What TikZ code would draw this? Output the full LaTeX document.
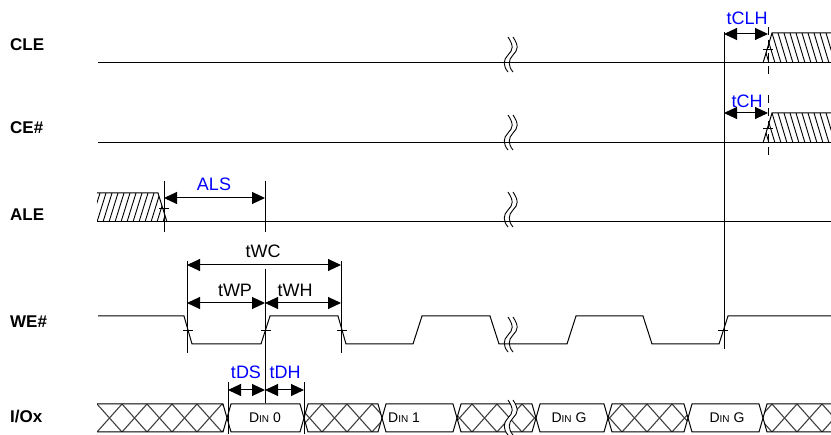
\documentclass[tikz,border=0pt]{standalone}
\usepackage{fontspec}
\setmainfont{Liberation Sans}
\usetikzlibrary{arrows.meta}
\begin{document}
\begin{tikzpicture}[x=1pt,y=-1pt,
  sig/.style={line width=1pt},
  meas/.style={line width=1pt},
  dim/.style={line width=1pt,{Triangle[length=13pt,width=12pt]}-{Triangle[length=13pt,width=12pt]}},
  hatchline/.style={line width=0.9pt},
  xhatch/.style={line width=1.1pt,black!75},
  tick/.style={line width=0.8pt},
  lbl/.style={font=\fontsize{18}{18}\selectfont,inner sep=0pt},
  blbl/.style={lbl,text=blue},
  sname/.style={font=\bfseries\fontsize{17}{17}\selectfont,inner sep=0pt,anchor=west},
  din/.style={font=\fontsize{14}{14}\selectfont,inner sep=0pt},
  brk/.pic={
    \draw[line width=0.9pt] (0,0) .. controls (6,9) and (5,13) .. (0,18) .. controls (-5,23) and (-5,29) .. (0,35);
    \draw[line width=0.9pt] (5,0) .. controls (11,9) and (10,13) .. (5,18) .. controls (0,23) and (0,29) .. (5,35);
  }]
\useasboundingbox (0,0) rectangle (831,435);
\newcommand{\dinlab}[1]{D{\fontsize{10}{10}\selectfont IN} #1}

% signal names
\node[sname] (nCLE) at (10,45) {CLE};
\node[sname] (nCE) at (10,128) {CE\#};
\node[sname] (nALE) at (10,215) {ALE};
\node[sname] (nWE) at (10,322) {WE\#};
\node[sname] (nIO) at (10,417) {I/Ox};

% ---------- CLE ----------
\begin{scope}
  \clip (763,63) -- (772,33) -- (831,33) -- (831,63) -- cycle;
  \foreach \x in {748,754,...,836} \draw[hatchline] (\x,33) -- (\x+9,63);
\end{scope}
\draw[sig] (98,63) -- (831,63);
\draw[sig] (763,63) -- (772,33) -- (831,33);
\draw[tick] (763,49) -- (773,49);
\pic at (508,37) {brk};

% ---------- CE# ----------
\begin{scope}
  \clip (763,143) -- (772,113) -- (831,113) -- (831,143) -- cycle;
  \foreach \x in {748,754,...,836} \draw[hatchline] (\x,113) -- (\x+9,143);
\end{scope}
\draw[sig] (98,143) -- (831,143);
\draw[sig] (763,143) -- (772,113) -- (831,113);
\draw[tick] (763,128) -- (773,128);
\pic at (508,115) {brk};

% ---------- ALE ----------
\begin{scope}
  \clip (97,193) -- (158,193) -- (167,222) -- (97,222) -- cycle;
  \foreach \x in {85,91,...,170} \draw[hatchline] (\x,222) -- (\x+9,193);
\end{scope}
\draw[sig] (97,222) -- (831,222);
\draw[sig] (97,193) -- (158,193) -- (167,222);
\draw[tick] (159,208) -- (169,208);
\pic at (508,192) {brk};

% ---------- WE# ----------
\draw[sig] (98,316) -- (184,316) -- (192,344) -- (261,344) -- (270,316) -- (338,316) -- (346,344)
  -- (413,344) -- (422,316) -- (490,316) -- (499,344) -- (567,344) -- (576,316) -- (643,316)
  -- (652,344) -- (719,344) -- (728,316) -- (831,316);
\foreach \x in {188,266,342,723} \draw[tick] (\x-5,330) -- (\x+5,330);
\pic at (508,317) {brk};

% ---------- I/Ox bus ----------
\def\bt{404}\def\bb{432}\def\bm{418}
\foreach \a/\b in {227/304,382/457,536/608,688/763} {
  \draw[sig] (\a,\bm) -- (\a+4,\bt) -- (\b-4,\bt) -- (\b,\bm) -- (\b-4,\bb) -- (\a+4,\bb) -- cycle;
}
\foreach \a/\b in {304/382,457/536,608/688} {
  \begin{scope}
    \clip (\a,\bm) -- (\a+4,\bt) -- (\b-4,\bt) -- (\b,\bm) -- (\b-4,\bb) -- (\a+4,\bb) -- cycle;
    \foreach \x in {72,97,...,850} {\draw[xhatch] (\x,\bt) -- (\x+25,\bb); \draw[xhatch] (\x,\bb) -- (\x+25,\bt);}
  \end{scope}
}
\begin{scope}
  \clip (97,\bt) -- (223,\bt) -- (227,\bm) -- (223,\bb) -- (97,\bb) -- cycle;
  \foreach \x in {72,97,...,250} {\draw[xhatch] (\x,\bt) -- (\x+25,\bb); \draw[xhatch] (\x,\bb) -- (\x+25,\bt);}
\end{scope}
\begin{scope}
  \clip (831,\bt) -- (767,\bt) -- (763,\bm) -- (767,\bb) -- (831,\bb) -- cycle;
  \foreach \x in {747,772,...,850} {\draw[xhatch] (\x,\bt) -- (\x+25,\bb); \draw[xhatch] (\x,\bb) -- (\x+25,\bt);}
\end{scope}
\draw[sig] (97,\bt) -- (223,\bt) -- (227,\bm) -- (223,\bb) -- (97,\bb);
\draw[sig] (831,\bt) -- (767,\bt) -- (763,\bm) -- (767,\bb) -- (831,\bb);
\foreach \a/\b in {304/382,457/536,608/688} {
  \draw[sig] (\a,\bm) -- (\a+4,\bt) -- (\b-4,\bt) -- (\b,\bm) -- (\b-4,\bb) -- (\a+4,\bb) -- cycle;
}
\fill[white] (508,400) .. controls (514,409) and (513,413) .. (508,418) .. controls (503,423) and (503,429) .. (508,435)
  -- (513,435) .. controls (508,429) and (508,423) .. (513,418) .. controls (518,413) and (519,409) .. (513,400) -- cycle;
\pic at (508,400) {brk};

\node[din] (d0) at (265,418) {\dinlab{0}};
\node[din,anchor=west] (d1) at (388,418) {\dinlab{1}};
\node[din] (dg1) at (569,418) {\dinlab{G}};
\node[din] (dg2) at (727,418) {\dinlab{G}};

% ---------- measurement lines ----------
\coordinate (mA1) at (164,181); \coordinate (mA2) at (164,232);
\coordinate (mB1) at (265,181); \coordinate (mB2) at (265,232);
\draw[meas] (mA1) -- (mA2);
\draw[meas] (mB1) -- (mB2);
\draw[dim] (mA1 |- 0,198) -- (mB1 |- 0,198);
\node[blbl] (tALS) at (214,184) {ALS};

\coordinate (wp1) at (187,261); \coordinate (wp2) at (187,353);
\coordinate (wh1) at (341,261); \coordinate (wh2) at (341,353);
\coordinate (wm1) at (265,269); \coordinate (wm2) at (265,403);
\draw[meas] (wp1) -- (wp2);
\draw[meas] (wh1) -- (wh2);
\draw[meas] (wm1) -- (wm2);
\draw[dim] (wp1 |- 0,265) -- (wh1 |- 0,265);
\node[lbl] (tWC) at (263,251) {tWC};
\draw[dim] (wp1 |- 0,303) -- (wm1 |- 0,303);
\node[lbl] (tWP) at (235,290) {tWP};
\draw[dim] (wm1 |- 0,303) -- (wh1 |- 0,303);
\node[lbl] (tWH) at (295,290) {tWH};

\coordinate (ds1) at (228,382); \coordinate (ds2) at (228,434);
\coordinate (dh1) at (304,382); \coordinate (dh2) at (304,434);
\draw[meas] (ds1) -- (ds2);
\draw[meas] (dh1) -- (dh2);
\draw[dim] (ds1 |- 0,390) -- (wm1 |- 0,390);
\draw[dim] (wm1 |- 0,390) -- (dh1 |- 0,390);
\node[blbl] (tDS) at (246,372) {tDS};
\node[blbl] (tDH) at (285,372) {tDH};

\coordinate (v1) at (724,32); \coordinate (v2) at (724,349);
\draw[meas] (v1) -- (v2);
\draw[meas,dash pattern=on 8pt off 5pt] (768,27) -- (768,76);
\draw[meas,dash pattern=on 8pt off 5pt] (768,95) -- (768,155);
\draw[dim] (v1 |- 0,34) -- (768,34);
\node[blbl] (tCLH) at (747,18) {tCLH};
\draw[dim] (v1 |- 0,113) -- (768,113);
\node[blbl] (tCH) at (747,101) {tCH};
\end{tikzpicture}
\end{document}
